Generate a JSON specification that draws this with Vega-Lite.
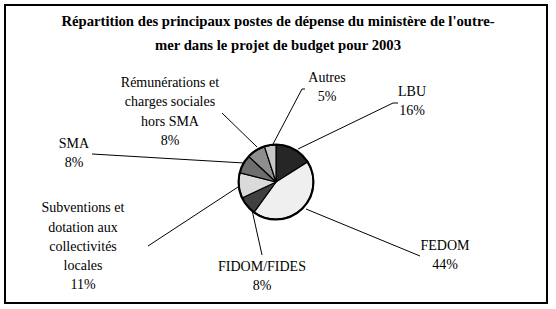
{
  "$schema": "https://vega.github.io/schema/vega-lite/v6.json",
  "width": 542,
  "height": 298,
  "autosize": "none",
  "padding": {"left": 5, "top": 5, "right": 9, "bottom": 6},
  "background": "white",
  "config": {"view": {"stroke": "black", "strokeWidth": 2}},
  "datasets": {
    "slices": [
      {"poste": "LBU", "part": 16, "ordre": 1},
      {"poste": "FEDOM", "part": 44, "ordre": 2},
      {"poste": "FIDOM/FIDES", "part": 8, "ordre": 3},
      {"poste": "Subventions", "part": 11, "ordre": 4},
      {"poste": "SMA", "part": 8, "ordre": 5},
      {"poste": "Rémunérations", "part": 8, "ordre": 6},
      {"poste": "Autres", "part": 5, "ordre": 7}
    ],
    "labels": [
      {"label": "Rémunérations et\ncharges sociales\nhors SMA\n8%", "lx": -106, "ly": 99},
      {"label": "Autres\n5%", "lx": 51, "ly": 104},
      {"label": "LBU\n16%", "lx": 136, "ly": 90},
      {"label": "SMA\n8%", "lx": -202, "ly": 38},
      {"label": "Subventions et\ndotation aux\ncollectivités\nlocales\n11%", "lx": -193, "ly": -26.3},
      {"label": "FIDOM/FIDES\n8%", "lx": -14, "ly": -85},
      {"label": "FEDOM\n44%", "lx": 169, "ly": -63.5}
    ],
    "leaders": [
      {"poste": "Rémunérations", "x1": -54, "y1": 69, "x2": -19, "y2": 35},
      {"poste": "Autres", "x1": 26, "y1": 93, "x2": -4, "y2": 36},
      {"poste": "Autres", "x1": 26, "y1": 93, "x2": 29, "y2": 93},
      {"poste": "LBU", "x1": 117, "y1": 79, "x2": 22, "y2": 33},
      {"poste": "LBU", "x1": 117, "y1": 79, "x2": 122, "y2": 79},
      {"poste": "SMA", "x1": -184, "y1": 28, "x2": -32, "y2": 19},
      {"poste": "Subventions", "x1": -128, "y1": -64, "x2": -38, "y2": -5},
      {"poste": "FIDOM/FIDES", "x1": -14, "y1": -73, "x2": -24, "y2": -28},
      {"poste": "FEDOM", "x1": 30, "y1": -27, "x2": 144, "y2": -74}
    ],
    "title": [
      {"label": "Répartition des principaux postes de dépense du ministère de l'outre-\nmer dans le projet de budget pour 2003", "lx": 2, "ly": 160}
    ]
  },
  "layer": [
    {
      "data": {"name": "slices"},
      "mark": {"type": "arc", "outerRadius": 37, "stroke": "black", "strokeWidth": 1.2},
      "encoding": {
        "x": {"datum": 0, "type": "quantitative", "scale": {"domain": [-271, 271], "nice": false, "zero": false}, "axis": null},
        "y": {"datum": 0, "type": "quantitative", "scale": {"domain": [-121, 177], "nice": false, "zero": false}, "axis": null},
        "theta": {"field": "part", "type": "quantitative", "stack": true},
        "order": {"field": "ordre", "type": "quantitative"},
        "color": {
          "field": "poste", "type": "nominal", "legend": null,
          "scale": {
            "domain": ["LBU", "FEDOM", "FIDOM/FIDES", "Subventions", "SMA", "Rémunérations", "Autres"],
            "range": ["#262626", "#efefef", "#404040", "#dadada", "#6e6e6e", "#8e8e8e", "#c6c6c6"]
          }
        }
      }
    },
    {
      "data": {"name": "slices"},
      "mark": {"type": "arc", "outerRadius": 37.5, "fill": null, "stroke": "black", "strokeWidth": 2},
      "encoding": {
        "x": {"datum": 0, "type": "quantitative"},
        "y": {"datum": 0, "type": "quantitative"},
        "theta": {"aggregate": "sum", "field": "part", "type": "quantitative"}
      }
    },
    {
      "data": {"name": "leaders"},
      "mark": {"type": "rule", "color": "black", "strokeWidth": 1},
      "encoding": {
        "x": {"field": "x1", "type": "quantitative"},
        "y": {"field": "y1", "type": "quantitative"},
        "x2": {"field": "x2"},
        "y2": {"field": "y2"}
      }
    },
    {
      "data": {"name": "labels"},
      "mark": {"type": "text", "font": "Liberation Serif", "fontSize": 14, "lineBreak": "\n", "lineHeight": 19.3, "align": "center", "baseline": "middle", "color": "black"},
      "encoding": {
        "x": {"field": "lx", "type": "quantitative"},
        "y": {"field": "ly", "type": "quantitative"},
        "text": {"field": "label"}
      }
    },
    {
      "data": {"name": "title"},
      "mark": {"type": "text", "font": "Liberation Serif", "fontSize": 14.7, "fontWeight": "bold", "lineBreak": "\n", "lineHeight": 23.5, "align": "center", "baseline": "middle", "color": "black"},
      "encoding": {
        "x": {"field": "lx", "type": "quantitative"},
        "y": {"field": "ly", "type": "quantitative"},
        "text": {"field": "label"}
      }
    }
  ]
}
